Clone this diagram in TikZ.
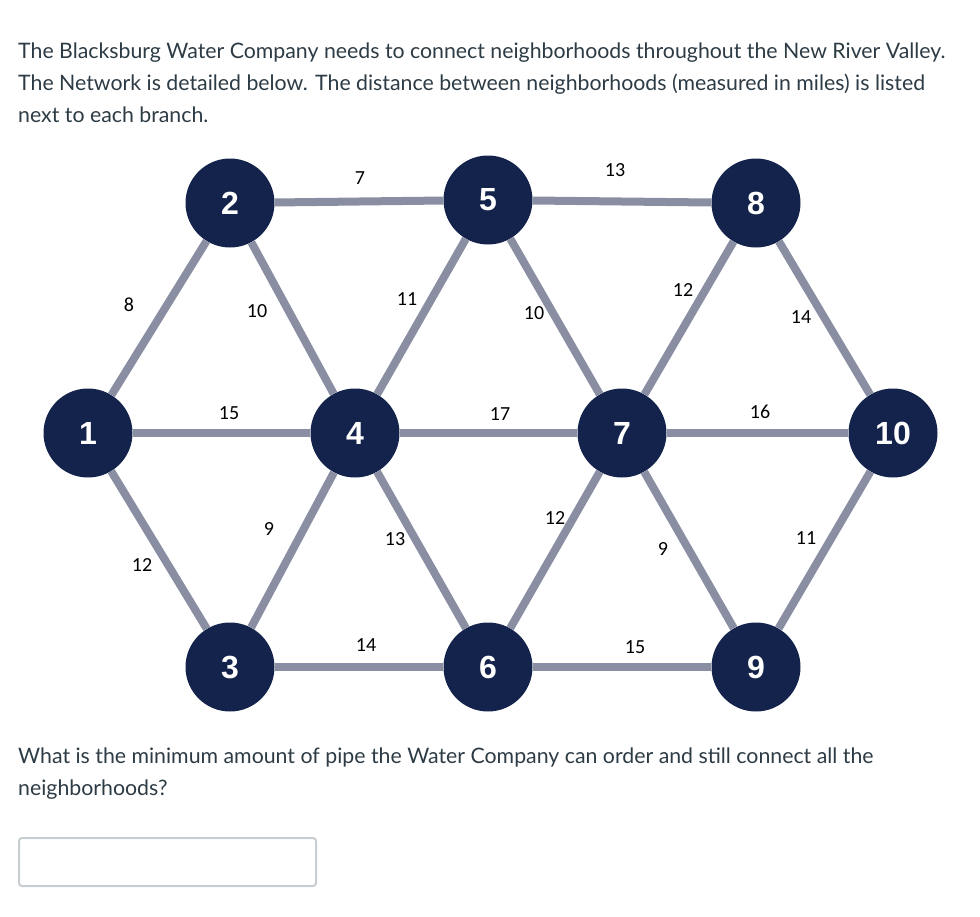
\documentclass[tikz,border=0pt]{standalone}
\usepackage{fontspec}
\setmainfont{Lato}
\newfontfamily\lblfont{Carlito}
\newfontfamily\numfont{Liberation Sans}
\definecolor{hood}{HTML}{14234B}
\definecolor{pipegray}{HTML}{8A8EA3}
\definecolor{canvastext}{HTML}{2D3B45}
\definecolor{boxgray}{HTML}{C7CDD1}
\tikzset{
  hood/.style={circle, fill=hood, minimum size=89pt, inner sep=0pt,
    text=white, font=\numfont\bfseries\fontsize{32}{32}\selectfont},
  pipe/.style={draw=pipegray, line width=8pt},
  dist/.style={inner sep=0pt, text=black, font=\lblfont\fontsize{20}{20}\selectfont},
  para/.style={anchor=base west, inner sep=0pt, text=canvastext, font=\fontsize{21.3}{32}\selectfont},
}
\begin{document}
\begin{tikzpicture}[x=1pt, y=-1pt]
  \useasboundingbox (0,0) rectangle (980,916);
  % question text
  \node[para] (p1) at (18,58) {The Blacksburg Water Company needs to connect neighborhoods throughout the New River Valley.};
  \node[para] (p2) at (18,90) {The Network is detailed below. The distance between neighborhoods (measured in miles) is listed};
  \node[para] (p3) at (18,122) {next to each branch.};
  % neighborhoods
  \node[hood] (n1) at (88,433) {1};
  \node[hood] (n2) at (230,203) {2};
  \node[hood] (n3) at (230,667) {3};
  \node[hood] (n4) at (355,433) {4};
  \node[hood] (n5) at (488,200) {5};
  \node[hood] (n6) at (488,667) {6};
  \node[hood] (n7) at (622,433) {7};
  \node[hood] (n8) at (756,203) {8};
  \node[hood] (n9) at (756,667) {9};
  \node[hood] (n10) at (893,433) {10};
  % branches
  \foreach \a/\b in {1/2,2/4,2/5,4/5,5/7,5/8,7/8,8/10,1/4,4/7,7/10,1/3,3/4,4/6,6/7,7/9,9/10,3/6,6/9}
    \draw[pipe] (n\a) -- (n\b);
  % distances
  \node[dist] (d12) at (129,305) {8};
  \node[dist] (d24) at (257,311) {10};
  \node[dist] (d25) at (360,178) {7};
  \node[dist] (d45) at (407,299) {11};
  \node[dist] (d57) at (534,313) {10};
  \node[dist] (d58) at (615,170) {13};
  \node[dist] (d78) at (683,290) {12};
  \node[dist] (d810) at (801,317) {14};
  \node[dist] (d14) at (229,413) {15};
  \node[dist] (d47) at (500,414) {17};
  \node[dist] (d710) at (760,412) {16};
  \node[dist] (d13) at (142,565) {12};
  \node[dist] (d34) at (269,529) {9};
  \node[dist] (d46) at (395,539) {13};
  \node[dist] (d67) at (555,518) {12};
  \node[dist] (d79) at (663,549) {9};
  \node[dist] (d910) at (806,538) {11};
  \node[dist] (d36) at (366,645) {14};
  \node[dist] (d69) at (635,647) {15};
  % question
  \node[para] (q1) at (18,763) {What is the minimum amount of pipe the Water Company can order and still connect all the};
  \node[para] (q2) at (18,795) {neighborhoods?};
  \draw[boxgray, line width=2pt, rounded corners=3pt] (19,838) rectangle (316,886);
\end{tikzpicture}
\end{document}
